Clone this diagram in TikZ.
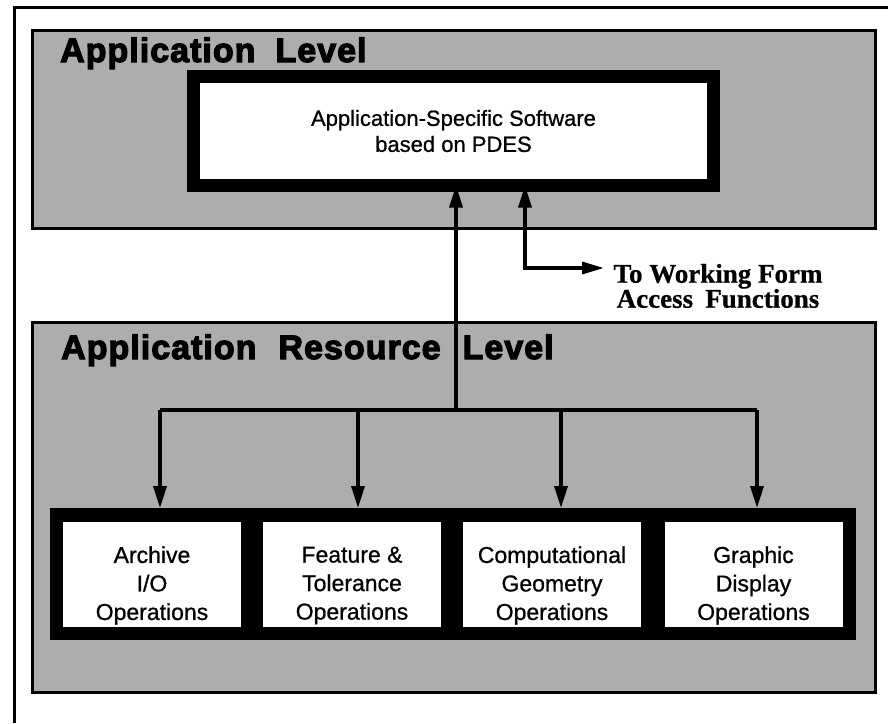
\documentclass[tikz,border=0pt]{standalone}
\usepackage{fontspec}
\setmainfont{Liberation Sans}[FakeBold=0.8]
\newfontfamily\heavy[FakeBold=3.5,LetterSpace=3]{Liberation Sans Bold}
\newfontfamily\serifb[FakeBold=0.6]{Liberation Serif Bold}
\usetikzlibrary{arrows.meta}
\definecolor{panelgray}{gray}{0.68}
\begin{document}
\begin{tikzpicture}[x=1pt,y=-1pt,
  panel/.style={draw=black, line width=3pt, fill=panelgray, outer sep=0pt, inner sep=0pt, anchor=north west},
  leveltitle/.style={font=\heavy\fontsize{34}{34}\selectfont, anchor=base west, inner sep=0pt},
  bigbox/.style={draw=black, fill=white, line width=13pt, inner sep=0pt, outer sep=0pt,
     minimum width=520pt, minimum height=109pt, align=center,
     font=\fontsize{22}{26}\selectfont},
  opbox/.style={fill=white, inner sep=0pt, outer sep=0pt, minimum width=178pt, minimum height=105pt},
  optext/.style={align=center, inner sep=0pt, font=\fontsize{23}{28.5}\selectfont},
  band/.style={fill=black, inner sep=0pt, outer sep=0pt, minimum width=806pt, minimum height=132pt},
  tip/.style={Triangle[length=22pt,width=13pt]},
  conn/.style={line width=3.5pt, -{Triangle[length=22pt,width=13pt]}},
  bus/.style={line width=3.5pt},
  notetext/.style={align=center, inner sep=0pt, font=\serifb\fontsize{27}{25}\selectfont}]
\useasboundingbox (0,0) rectangle (888,723);
\fill[white] (0,0) rectangle (888,723);
% outer frame (partly outside the page)
\draw[line width=3pt] (14,723) -- (14,7) -- (888,7);

% level panels
\node[panel, minimum width=843pt, minimum height=198pt] (applevel) at (32,30) {};
\node[panel, minimum width=843pt, minimum height=370pt] (reslevel) at (32,322) {};
\node[leveltitle] (t1) at (60,62) {Application\hspace{20pt}Level};
\node[leveltitle] (t2) at (61,359) {Application\hspace{22pt}Resource\hspace{22pt}Level};

% application-specific software
\node[bigbox] (app) at (453.5,131) {Application-Specific Software\\based on PDES};

% operations band
\node[band] (bandnode) at (453,574) {};
\node[opbox] (b1) at (152,574.5) {};
\node[opbox] (b2) at (352,574.5) {};
\node[opbox] (b3) at (552,574.5) {};
\node[opbox] (b4) at (753.5,574.5) {};
\node[optext] (l1) at ([yshift=-11pt]b1.center) {Archive\\I/O\\Operations};
\node[optext] (l2) at ([yshift=-11pt]b2.center) {Feature \&\\Tolerance\\Operations};
\node[optext] (l3) at ([yshift=-11pt]b3.center) {Computational\\Geometry\\Operations};
\node[optext] (l4) at ([yshift=-11pt]b4.center) {Graphic\\Display\\Operations};

% bus and arrows
\coordinate (j1) at (160,410);
\coordinate (j2) at (358,410);
\coordinate (jm) at (456,410);
\coordinate (j3) at (561,410);
\coordinate (j4) at (757,410);
\draw[bus] (j1) -- (j4);
\draw[conn] (jm) -- (jm |- app.south);
\draw[conn] (j1) -- (j1 |- bandnode.north);
\draw[conn] (j2) -- (j2 |- bandnode.north);
\draw[conn] (j3) -- (j3 |- bandnode.north);
\draw[conn] (j4) -- (j4 |- bandnode.north);

% working form access
\node[notetext] (wf) at (718,286) {To Working Form\\Access\hspace{0.45em}Functions};
\coordinate (wfbend) at (525,268);
\coordinate (wftip) at (604,268);
\draw[line width=3.5pt, {Triangle[length=22pt,width=13pt]}-{Triangle[length=22pt,width=12pt]}]
  (wfbend |- app.south) -- (wfbend) -- (wftip);
\end{tikzpicture}
\end{document}
